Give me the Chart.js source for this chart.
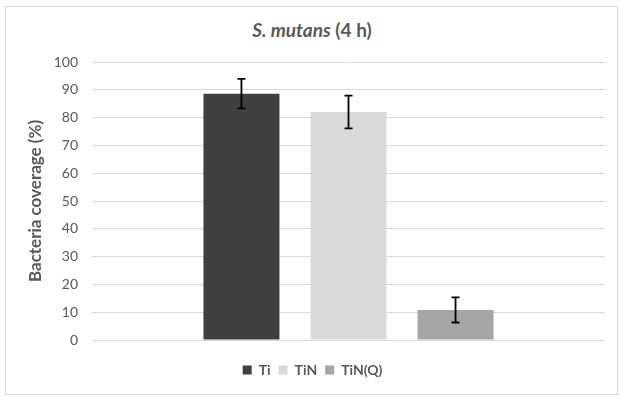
<!DOCTYPE html>
<html>
<head>
<meta charset="utf-8">
<script src="https://cdn.jsdelivr.net/npm/chart.js@4/dist/chart.umd.min.js"></script>
<style>
  html, body { margin: 0; padding: 0; background: #fff; }
  #wrap { position: relative; width: 624px; height: 402px; }
  #frame { position: absolute; left: 5px; top: 6px; width: 611px; height: 387px; border: 1px solid #d9d9d9; }
  #title { position: absolute; left: 0; top: 18px; width: 624px; text-align: center;
           font-family: Lato, sans-serif; font-weight: bold; font-size: 19px; color: #595959; }
  canvas { position: absolute; left: 0; top: 0; }
</style>
</head>
<body>
<div id="wrap">
  <div id="frame"></div>
  <div id="title"><i>S. mutans</i> (4 h)</div>
  <canvas id="chart" width="624" height="402"></canvas>
</div>
<script>
const categories = [''];
const seriesNames = ['Ti', 'TiN', 'TiN(Q)'];
const coverage = [88.6, 82.0, 10.8];
const errorSize = [5.3, 5.9, 4.5];
const seriesColors = ['#404040', '#d9d9d9', '#a5a5a5'];
const yTicks = [0, 10, 20, 30, 40, 50, 60, 70, 80, 90, 100];

const textColor = '#595959';
const fontFamily = 'Lato, sans-serif';

// draws the +/- error bars on top of each bar
const errorBars = {
    id: 'errorBars',
    afterDatasetsDraw(chart) {
        const ctx = chart.ctx;
        const y = chart.scales.y;
        ctx.save();
        ctx.strokeStyle = '#000';
        ctx.lineWidth = 1.8;
        chart.data.datasets.forEach((ds, i) => {
            const meta = chart.getDatasetMeta(i);
            meta.data.forEach((bar, j) => {
                const v = ds.data[j];
                const e = errorSize[i];
                const top = y.getPixelForValue(v + e);
                const bottom = y.getPixelForValue(v - e);
                const x = bar.x;
                ctx.beginPath();
                ctx.moveTo(x, top);
                ctx.lineTo(x, bottom);
                ctx.moveTo(x - 4, top);
                ctx.lineTo(x + 4, top);
                ctx.moveTo(x - 4, bottom);
                ctx.lineTo(x + 4, bottom);
                ctx.stroke();
            });
        });
        ctx.restore();
    }
};

const ctx = document.getElementById('chart').getContext('2d');
new Chart(ctx, {
    type: 'bar',
    data: {
        labels: categories,
        datasets: seriesNames.map((name, i) => ({
            label: name,
            data: [coverage[i]],
            backgroundColor: seriesColors[i],
            borderWidth: 0,
            categoryPercentage: 0.626,
            barPercentage: 0.71
        }))
    },
    options: {
        responsive: false,
        animation: false,
        layout: { padding: { left: 20, right: 19, top: 62, bottom: 15 } },
        plugins: {
            title: { display: false },
            tooltip: { enabled: false },
            legend: {
                position: 'bottom',
                labels: {
                    color: textColor,
                    boxWidth: 9,
                    boxHeight: 9,
                    padding: 8,
                    font: { family: fontFamily, size: 14, weight: 'bold' }
                }
            }
        },
        scales: {
            x: {
                ticks: { display: false },
                grid: { display: false },
                border: { display: false },
                afterFit: (scale) => { scale.height = 15; }
            },
            y: {
                min: 0,
                max: 100,
                afterBuildTicks: (scale) => { scale.ticks = yTicks.map(v => ({ value: v })); },
                ticks: {
                    color: textColor,
                    padding: 14,
                    font: { family: fontFamily, size: 14 }
                },
                grid: { color: '#d9d9d9', drawTicks: false },
                border: { display: false },
                title: {
                    display: true,
                    text: 'Bacteria coverage (%)',
                    color: textColor,
                    padding: { top: 5, bottom: 6 },
                    font: { family: fontFamily, size: 17, weight: 'bold' }
                },
                afterFit: (scale) => { scale.width = 72; }
            }
        }
    },
    plugins: [errorBars]
});
</script>
</body>
</html>
